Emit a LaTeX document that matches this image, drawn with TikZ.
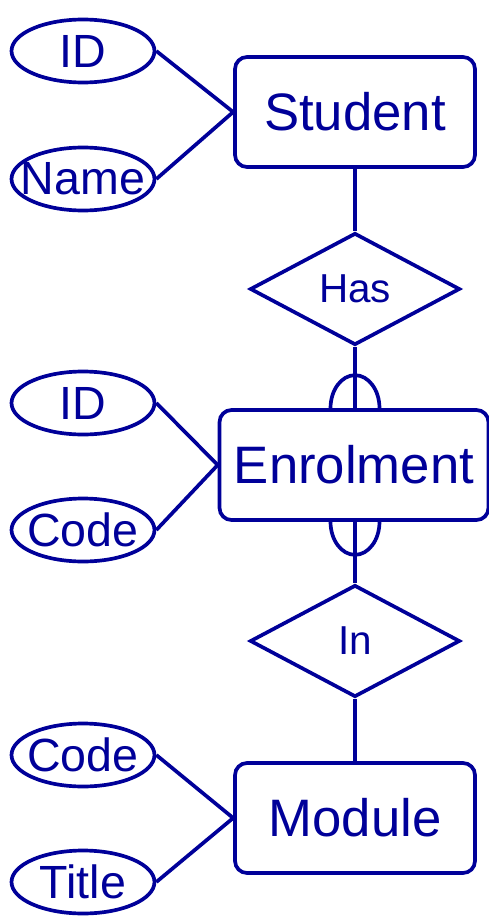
\documentclass[tikz,border=0pt]{standalone}
\usepackage{fontspec}
\setmainfont{Liberation Sans}
\usetikzlibrary{shapes.geometric}
\definecolor{erblue}{RGB}{0,0,153}

\begin{document}
\begin{tikzpicture}[x=0.02cm,y=-0.02cm,line width=2.1pt,erblue,
    entity/.style={draw,rounded corners=0.24cm,minimum width=4.8cm,minimum height=2.2cm,font=\fontsize{30}{32}\selectfont},
    attr/.style={draw,ellipse,minimum width=2.86cm,minimum height=1.26cm,inner sep=0pt,label={[font=\fontsize{26.5}{28}\selectfont]center:#1}},
    rel/.style={draw,diamond,minimum width=4.2cm,minimum height=2.24cm,inner sep=0pt,label={[font=\fontsize{23}{25}\selectfont]center:#1}}]
              \useasboundingbox (0,0) rectangle (489,919);
              % entities and relationships
              \node[entity](student)at(355,112){Student};
              \node[rel=Has](has)at(355,289){};
              \node[entity,minimum width=5.38cm](enrol)at(354,465){Enrolment};
              \node[rel=In](in)at(355,641){};
              \node[entity](module)at(355,818){Module};
              % attributes
              \node[attr=ID](sid)at(83,51){};
              \node[attr=Name](sname)at(83,179){};
              \node[attr=ID](eid)at(83,403){};
              \node[attr=Code](ecode)at(83,530){};
              \node[attr=Code](mcode)at(83,755){};
              \node[attr=Title](mtitle)at(83,882){};
              \draw(sid.east)--(student.west);
              \draw(sname.east)--(student.west);
              \draw(eid.east)--(enrol.west);
              \draw(ecode.east)--(enrol.west);
              \draw(mcode.east)--(module.west);
              \draw(mtitle.east)--(module.west);
              % links
              \draw(student)--(has);
              \draw(has.south)--(has.south|-enrol.north);
              \draw(in.north)--(in.north|-enrol.south);
              \draw(in)--(module);
              \draw([xshift=-0.49cm]has.south|-enrol.north) arc[start angle=180,end angle=0,x radius=0.49cm,y radius=0.66cm];
              \draw([xshift=-0.49cm]in.north|-enrol.south) arc[start angle=180,end angle=360,x radius=0.49cm,y radius=0.66cm];
            \end{tikzpicture}
\end{document}
